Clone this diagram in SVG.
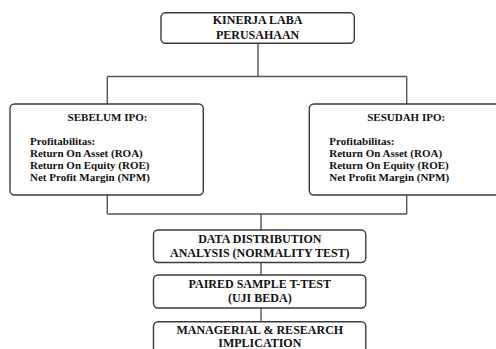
<svg xmlns="http://www.w3.org/2000/svg" width="496" height="349" viewBox="0 0 496 349">
<style>
.box{fill:#fff;stroke:#3a3a3a;stroke-width:1.4}
.ln{fill:none;stroke:#555;stroke-width:1.4}
text{font-family:"Liberation Serif","Times New Roman",serif;font-weight:bold;fill:#111}
.t{font-size:12px;text-anchor:middle}
.s{font-size:11px}
.h{font-size:11px;text-anchor:middle}
</style>
<rect width="496" height="349" fill="#fff"/>
<g id="connectors">
<path class="ln" d="M258 43.3V76.5M107.3 76.5H406.7M107.3 76.5V104M406.7 76.5V104"/>
<path class="ln" d="M107.3 195V214M406.7 195V214M107.3 214H406.7M261 214V230"/>
<path class="ln" d="M261 262.5V275M261 308V321.7"/>
</g>
<g id="kinerja">
<rect class="box" x="161" y="12.7" width="193.3" height="30.6" rx="4.5"/>
<text class="t" x="257.6" y="24.4">KINERJA LABA</text>
<text class="t" x="257.6" y="38.8">PERUSAHAAN</text>
</g>
<g id="sebelum">
<rect class="box" x="10" y="104" width="193.3" height="91" rx="4.5"/>
<text class="h" x="107.5" y="121">SEBELUM IPO:</text>
<text class="s" x="30" y="145.3">Profitabilitas:</text>
<text class="s" x="30" y="157.2">Return On Asset (ROA)</text>
<text class="s" x="30" y="169">Return On Equity (ROE)</text>
<text class="s" x="30" y="180.8">Net Profit Margin (NPM)</text>
</g>
<g id="sesudah">
<rect class="box" x="309.3" y="104" width="196" height="91" rx="4.5"/>
<text class="h" x="406.2" y="121">SESUDAH IPO:</text>
<text class="s" x="329.3" y="145.3">Profitabilitas:</text>
<text class="s" x="329.3" y="157.2">Return On Asset (ROA)</text>
<text class="s" x="329.3" y="169">Return On Equity (ROE)</text>
<text class="s" x="329.3" y="180.8">Net Profit Margin (NPM)</text>
</g>
<g id="normality">
<rect class="box" x="153.5" y="230" width="212.3" height="32.5" rx="4.5"/>
<text class="t" x="259.8" y="242.5">DATA DISTRIBUTION</text>
<text class="t" x="259.8" y="257">ANALYSIS (NORMALITY TEST)</text>
</g>
<g id="ttest">
<rect class="box" x="153.5" y="275" width="212.3" height="33" rx="4.5"/>
<text class="t" x="259.8" y="287.6">PAIRED SAMPLE T-TEST</text>
<text class="t" x="259.8" y="302.1">(UJI BEDA)</text>
</g>
<g id="implication">
<rect class="box" x="153.5" y="321.7" width="212.3" height="40" rx="4.5"/>
<text class="t" x="259.8" y="333.5">MANAGERIAL &amp; RESEARCH</text>
<text class="t" x="259.8" y="347">IMPLICATION</text>
</g>
</svg>
